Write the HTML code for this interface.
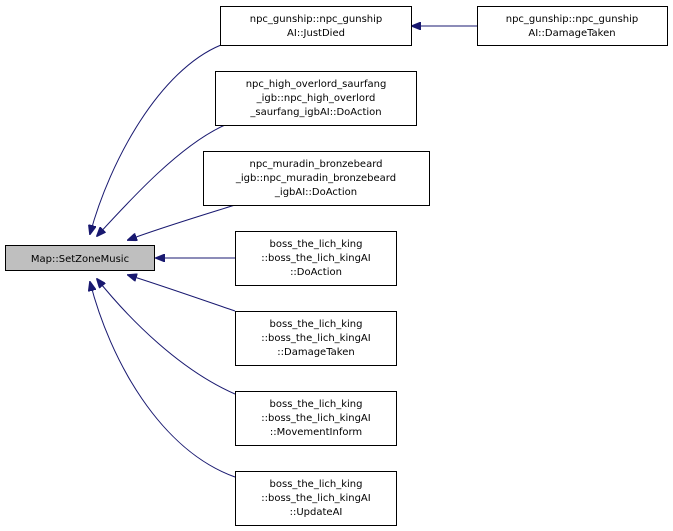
<!DOCTYPE html>
<html><head><meta charset="utf-8"><style>html,body{margin:0;padding:0;background:#fff}svg{display:block}text{font-family:"DejaVu Sans","Liberation Sans",sans-serif;font-size:10px;fill:#000}</style></head>
<body>
<svg width="673" height="531" viewBox="0 0 673 531" xmlns="http://www.w3.org/2000/svg">
<defs><marker id="a" markerWidth="10" markerHeight="8" refX="9" refY="4" orient="auto" markerUnits="userSpaceOnUse"><path d="M0,0 L10,4 L0,8 Z" fill="#191970" stroke="#191970"/></marker></defs>
<g fill="none" stroke="#191970" stroke-width="1">
<path d="M221,45 C160,70 110,160 90,234" marker-end="url(#a)"/>
<path d="M225,125 C180,145 130,200 97,236" marker-end="url(#a)"/>
<path d="M235,205 C200,216 160,228 128,240" marker-end="url(#a)"/>
<path d="M235,258 L156,258" marker-end="url(#a)"/>
<path d="M235,311 C200,299 160,285 128,275" marker-end="url(#a)"/>
<path d="M235,394 C180,370 130,320 97,279" marker-end="url(#a)"/>
<path d="M235,477 C160,450 110,360 90,282" marker-end="url(#a)"/>
<path d="M477,26 L412,26" marker-end="url(#a)"/>
</g>
<g stroke="#000" stroke-width="1">
<rect x="5.5" y="245.5" width="149" height="25" fill="#bfbfbf"/>
<rect x="220.5" y="6.5" width="191" height="39" fill="#fff"/>
<rect x="477.5" y="6.5" width="190" height="39" fill="#fff"/>
<rect x="215.5" y="71.5" width="201" height="54" fill="#fff"/>
<rect x="203.5" y="151.5" width="226" height="54" fill="#fff"/>
<rect x="235.5" y="231.5" width="161" height="54" fill="#fff"/>
<rect x="235.5" y="311.5" width="161" height="54" fill="#fff"/>
<rect x="235.5" y="391.5" width="161" height="54" fill="#fff"/>
<rect x="235.5" y="471.5" width="161" height="54" fill="#fff"/>
</g>
<g text-anchor="middle">
<text x="80" y="262">Map::SetZoneMusic</text>
<text x="316" y="22">npc_gunship::npc_gunship</text><text x="316" y="36">AI::JustDied</text>
<text x="572" y="22">npc_gunship::npc_gunship</text><text x="572" y="36">AI::DamageTaken</text>
<text x="316" y="87">npc_high_overlord_saurfang</text><text x="316" y="101">_igb::npc_high_overlord</text><text x="316" y="115">_saurfang_igbAI::DoAction</text>
<text x="316" y="167">npc_muradin_bronzebeard</text><text x="316" y="181">_igb::npc_muradin_bronzebeard</text><text x="316" y="195">_igbAI::DoAction</text>
</g>
<g text-anchor="middle">
<text x="316" y="247">boss_the_lich_king</text><text x="316" y="261">::boss_the_lich_kingAI</text><text x="316" y="275">::DoAction</text>
<text x="316" y="327">boss_the_lich_king</text><text x="316" y="341">::boss_the_lich_kingAI</text><text x="316" y="355">::DamageTaken</text>
<text x="316" y="407">boss_the_lich_king</text><text x="316" y="421">::boss_the_lich_kingAI</text><text x="316" y="435">::MovementInform</text>
<text x="316" y="487">boss_the_lich_king</text><text x="316" y="501">::boss_the_lich_kingAI</text><text x="316" y="515">::UpdateAI</text>
</g>
</svg>
</body></html>
